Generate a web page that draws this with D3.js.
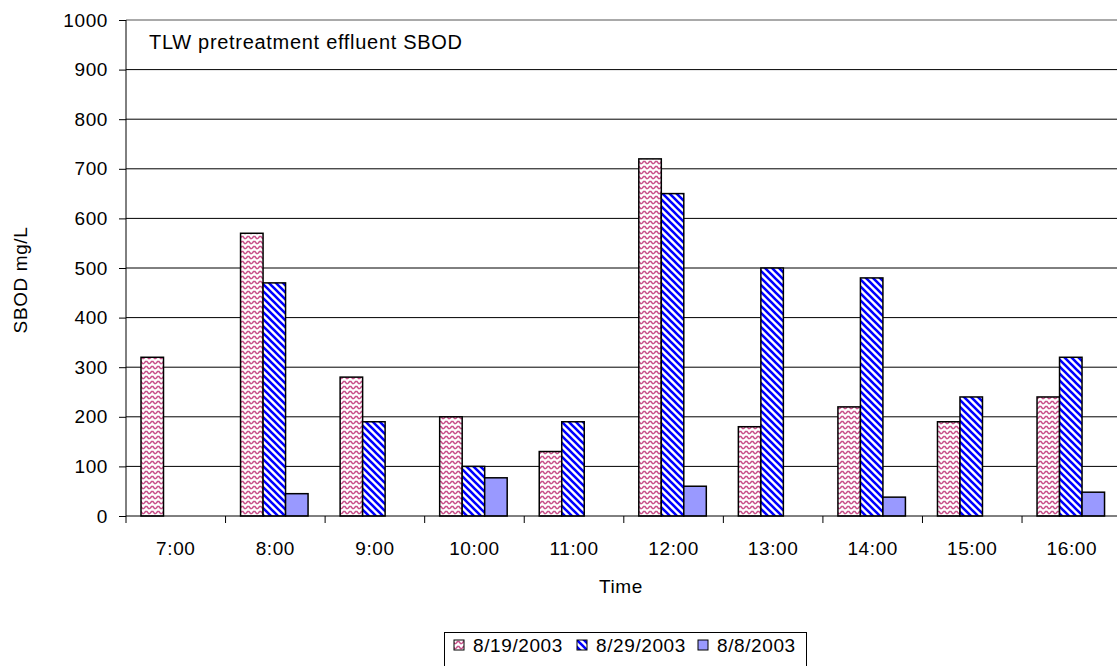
<!DOCTYPE html>
<html><head><meta charset="utf-8">
<script src="https://cdn.jsdelivr.net/npm/d3@7/dist/d3.min.js"></script>
<style>body{margin:0;background:#fff}svg{display:block;font-family:"Liberation Sans",Arial,sans-serif}</style>
</head><body><svg id="c" width="1117" height="666"></svg>
<script>
const categories = ["7:00","8:00","9:00","10:00","11:00","12:00","13:00","14:00","15:00","16:00"];
const seriesNames = ["8/19/2003","8/29/2003","8/8/2003"];
const s0819 = [320,570,280,200,130,720,180,220,190,240];
const s0829 = [null,470,190,100,190,650,500,480,240,320];
const s0808 = [null,45,null,77,null,60,null,38,null,48];
const yTicks = [0,100,200,300,400,500,600,700,800,900,1000];
const seriesValues = [s0819,s0829,s0808];

const svg = d3.select("#c");
const L=126, R=1121.6, T=20, B=516;
const FS = 19, LS = 0.6;
const x = d3.scaleBand().domain(categories).range([L,R]).padding(0);
const inner = d3.scaleBand().domain(seriesNames).range([15,82.5]).padding(0);
const y = d3.scaleLinear().domain([0,1000]).range([B,T]);

const defs = svg.append("defs");
const pw = defs.append("pattern").attr("id","wave").attr("patternUnits","userSpaceOnUse").attr("width",6).attr("height",5);
pw.append("rect").attr("width",6).attr("height",5).attr("fill","#fff");
pw.append("path").attr("d","M0,3.5 L1.5,1.5 L3,1.5 L4.5,3.5 L6,3.5").attr("fill","none").attr("stroke","#c8508a").attr("stroke-width",1.4);
const pd = defs.append("pattern").attr("id","diag").attr("patternUnits","userSpaceOnUse").attr("width",7).attr("height",7);
pd.append("rect").attr("width",7).attr("height",7).attr("fill","#fff");
pd.append("path").attr("d","M-1,-1 L8,8 M-1,6 L1,8 M6,-1 L8,1").attr("stroke","#0000ff").attr("stroke-width",2.6);
const fills = ["url(#wave)","url(#diag)","#9999ff"];

// gridlines
svg.append("g").selectAll("line").data(yTicks.filter(d=>d>0)).join("line")
  .attr("x1",L).attr("x2",1117).attr("y1",d=>y(d)).attr("y2",d=>y(d))
  .attr("stroke",d=>d===1000?"#555":"#000").attr("stroke-width",1);

// title
svg.append("text").attr("x",149).attr("y",49).attr("font-size",20).attr("letter-spacing",0.7).attr("fill","#000")
  .text("TLW pretreatment effluent SBOD");

// bars
seriesValues.forEach((vals,si)=>{
  svg.append("g").selectAll("rect").data(vals.map((v,i)=>({v,c:categories[i]})).filter(d=>d.v!=null)).join("rect")
    .attr("x",d=>x(d.c)+inner(seriesNames[si]))
    .attr("width",inner.bandwidth())
    .attr("y",d=>y(d.v)).attr("height",d=>B-y(d.v))
    .attr("fill",fills[si]).attr("stroke","#000").attr("stroke-width",1.5);
});

// y axis
const ya = svg.append("g").attr("transform",`translate(${L},0)`)
  .call(d3.axisLeft(y).tickValues(yTicks).tickFormat(d3.format("d")).tickSize(7).tickPadding(11));
ya.select(".domain").attr("stroke","#000").attr("d",`M0,${T}V${B}`);
ya.selectAll("text").attr("font-size",FS).attr("letter-spacing",LS).attr("font-family","Liberation Sans, Arial").attr("fill","#000");
ya.selectAll(".tick line").attr("stroke","#000");

// x axis
const xa = svg.append("g").attr("transform",`translate(0,${B})`)
  .call(d3.axisBottom(x).tickSize(0).tickPadding(26));
xa.select(".domain").attr("d",`M${L},0H1117`).attr("stroke","#000");
xa.selectAll("text").attr("font-size",FS).attr("letter-spacing",LS).attr("font-family","Liberation Sans, Arial").attr("fill","#000");
svg.append("g").selectAll("line").data(categories.map(c=>x(c))).join("line")
  .attr("x1",d=>d).attr("x2",d=>d).attr("y1",B).attr("y2",B+7).attr("stroke","#000");

// axis titles
svg.append("text").attr("x",621).attr("y",593).attr("text-anchor","middle").attr("font-size",FS).attr("letter-spacing",LS).text("Time");
svg.append("text").attr("transform","translate(27,280) rotate(-90)").attr("text-anchor","middle").attr("font-size",FS).attr("letter-spacing",LS).text("SBOD mg/L");

// legend
const lg = svg.append("g");
lg.append("rect").attr("x",444.5).attr("y",632.5).attr("width",362).attr("height",40).attr("fill","#fff").attr("stroke","#000");
const lx = [454,577,698];
seriesNames.forEach((n,i)=>{
  lg.append("rect").attr("x",lx[i]).attr("y",640).attr("width",10).attr("height",10).attr("fill",fills[i]).attr("stroke","#000");
  lg.append("text").attr("x",lx[i]+19).attr("y",652).attr("font-size",FS).attr("letter-spacing",LS).text(n);
});
</script></body></html>
